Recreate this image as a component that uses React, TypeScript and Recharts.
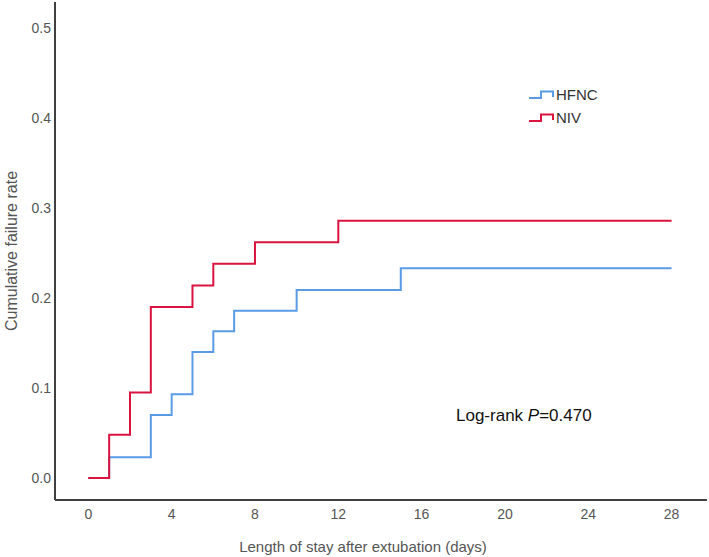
import { LineChart, Line, XAxis, YAxis } from "recharts";

// Kaplan-Meier style cumulative failure
const nivDays = [0, 1, 2, 3, 5, 6, 8, 12, 28];
const nivRate = [0, 0.048, 0.095, 0.19, 0.214, 0.238, 0.262, 0.286, 0.286];
const hfncDays = [0, 1, 3, 4, 5, 6, 7, 10, 15, 28];
const hfncRate = [0, 0.023, 0.07, 0.093, 0.14, 0.163, 0.186, 0.209, 0.233, 0.233];

const xTicks = [0, 4, 8, 12, 16, 20, 24, 28];
const yTicks = [0, 0.1, 0.2, 0.3, 0.4, 0.5];

const HFNC_COLOR = "#5b9be6";
const NIV_COLOR = "#d9143f";
const AXIS_COLOR = "#404040";
const FONT = "'Liberation Sans', Arial, sans-serif";

const nivData = nivDays.map((t, i) => ({ t, v: nivRate[i] }));
const hfncData = hfncDays.map((t, i) => ({ t, v: hfncRate[i] }));

function StepIcon({ color }: { color: string }) {
  return (
    <svg width={26} height={10} style={{ display: "block" }}>
      <polyline points="1,8 13,8 13,1.5 25,1.5 25,7" fill="none" stroke={color} strokeWidth={2} />
    </svg>
  );
}

function KmLegend() {
  const rows = [
    { name: "HFNC", color: HFNC_COLOR },
    { name: "NIV", color: NIV_COLOR },
  ];
  return (
    <div style={{ position: "absolute", left: 528, top: 83, fontFamily: FONT, fontSize: 15, color: "#333" }}>
      {rows.map((r) => (
        <div key={r.name} style={{ display: "flex", alignItems: "center", height: 23 }}>
          <StepIcon color={r.color} />
          <span style={{ marginLeft: 2 }}>{r.name}</span>
        </div>
      ))}
    </div>
  );
}

export default function App() {
  return (
    <div style={{ position: "absolute", left: 0, top: 0, width: 709, height: 557, background: "#fff" }}>
      <LineChart width={709} height={557} margin={{ top: 2, right: 2, left: 0, bottom: 0 }}>
        <XAxis
          dataKey="t"
          type="number"
          domain={[-1.6, 29.7]}
          allowDataOverflow
          ticks={xTicks}
          tickLine={false}
          tickSize={9}
          tickMargin={0}
          height={57}
          axisLine={{ stroke: AXIS_COLOR, strokeWidth: 2 }}
          tick={{ fill: "#555", fontSize: 14, fontFamily: FONT }}
          label={{
            value: "Length of stay after extubation (days)",
            position: "insideBottom",
            offset: 5,
            dx: -18,
            fill: "#555",
            fontSize: 15,
            fontFamily: FONT,
          }}
        />
        <YAxis
          type="number"
          domain={[-0.0244, 0.529]}
          allowDataOverflow
          ticks={yTicks}
          tickFormatter={(v: number) => v.toFixed(1)}
          tickLine={false}
          tickSize={4}
          tickMargin={0}
          width={55}
          axisLine={{ stroke: AXIS_COLOR, strokeWidth: 2 }}
          tick={{ fill: "#555", fontSize: 14, fontFamily: FONT }}
          label={{
            value: "Cumulative failure rate",
            angle: -90,
            position: "insideLeft",
            offset: 11,
            fill: "#555",
            fontSize: 16,
            fontFamily: FONT,
            style: { textAnchor: "middle" },
          }}
        />
        <Line
          data={hfncData}
          dataKey="v"
          name="HFNC"
          type="stepAfter"
          stroke={HFNC_COLOR}
          strokeWidth={2}
          dot={false}
          activeDot={false}
          isAnimationActive={false}
        />
        <Line
          data={nivData}
          dataKey="v"
          name="NIV"
          type="stepAfter"
          stroke={NIV_COLOR}
          strokeWidth={2}
          dot={false}
          activeDot={false}
          isAnimationActive={false}
        />
      </LineChart>
      <KmLegend />
      <div
        style={{
          position: "absolute",
          left: 456,
          top: 406,
          fontFamily: FONT,
          fontSize: 17,
          color: "#111",
          whiteSpace: "nowrap",
        }}
      >
        Log-rank <i>P</i>=0.470
      </div>
    </div>
  );
}
